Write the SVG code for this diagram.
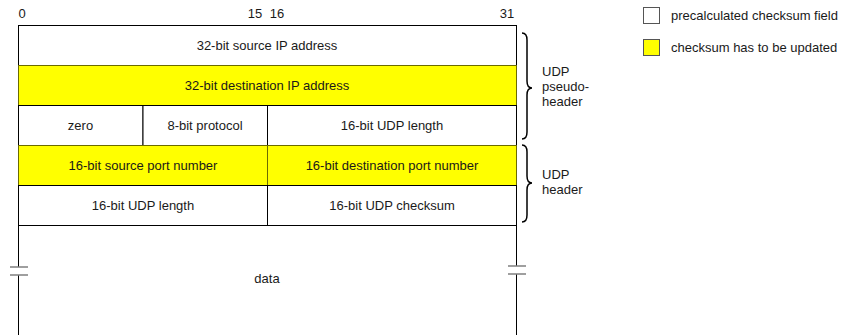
<svg xmlns="http://www.w3.org/2000/svg" width="841" height="335" viewBox="0 0 841 335">
<style>
text{font-family:"Liberation Sans",Arial,Helvetica,sans-serif;font-size:13px;fill:#1a1a1a}
.c{text-anchor:middle}
.w{fill:#ffffff;stroke:#000;stroke-width:1}
.y{fill:#ffff00;stroke:#6b6b00;stroke-width:1}
.ln{stroke:#000;stroke-width:1;fill:none}
.brk{stroke:#808080;stroke-width:1.5;fill:none}
.br{stroke:#000;stroke-width:1.5;fill:none}
</style>
<rect width="841" height="335" fill="#fff"/>
<g id="bits">
<text x="22" y="18" class="c">0</text>
<text x="255" y="18" class="c">15</text>
<text x="277" y="18" class="c">16</text>
<text x="507" y="18" class="c">31</text>
</g>
<g id="row1"><rect class="w" x="18.5" y="25.5" width="498" height="40"/><text x="267" y="49.5" class="c">32-bit source IP address</text></g>
<g id="row2"><rect class="y" x="18.5" y="65.5" width="498" height="40"/><text x="267" y="89.5" class="c">32-bit destination IP address</text></g>
<g id="row3">
<rect class="w" x="18.5" y="105.5" width="124.5" height="40"/><text x="80.5" y="129.5" class="c">zero</text>
<rect class="w" x="143" y="105.5" width="124.5" height="40"/><text x="205" y="129.5" class="c">8-bit protocol</text>
<rect class="w" x="267.5" y="105.5" width="249" height="40"/><text x="392" y="129.5" class="c">16-bit UDP length</text>
</g>
<g id="row4">
<rect class="y" x="18.5" y="145.5" width="249" height="40"/><text x="143" y="169.5" class="c">16-bit source port number</text>
<rect class="y" x="267.5" y="145.5" width="249" height="40"/><text x="392" y="169.5" class="c">16-bit destination port number</text>
</g>
<g id="row5">
<rect class="w" x="18.5" y="185.5" width="249" height="40"/><text x="143" y="209.5" class="c">16-bit UDP length</text>
<rect class="w" x="267.5" y="185.5" width="249" height="40"/><text x="392" y="209.5" class="c">16-bit UDP checksum</text>
</g>
<g id="data">
<path class="ln" d="M18.5,225.5 V267 M18.5,275 V335 M516.5,225.5 V266 M516.5,274 V335"/>
<path class="brk" d="M10,267 H28 M10,275 H28 M508,266 H526 M508,274 H526"/>
<text x="267" y="283" class="c">data</text>
</g>
<g id="connectors">
<path class="br" d="M522,33 Q527,33 527,40 L527,81 Q527,88 532,88 Q527,88 527,95 L527,132 Q527,139 522,139"/>
<path class="br" d="M522,145 Q527,145 527,152 L527,176 Q527,183 532,183 Q527,183 527,190 L527,215 Q527,222 522,222"/>
</g>
<g id="pseudo-label"><text x="542" y="76">UDP</text><text x="542" y="91">pseudo-</text><text x="542" y="106">header</text></g>
<g id="header-label"><text x="542" y="179">UDP</text><text x="542" y="194">header</text></g>
<g id="legend">
<rect x="643.5" y="7.5" width="16" height="16" fill="#fff" stroke="#555"/>
<text x="671" y="20">precalculated checksum field</text>
<rect x="643.5" y="39.5" width="16" height="16" fill="#ffff00" stroke="#555"/>
<text x="671" y="52">checksum has to be updated</text>
</g>
</svg>
